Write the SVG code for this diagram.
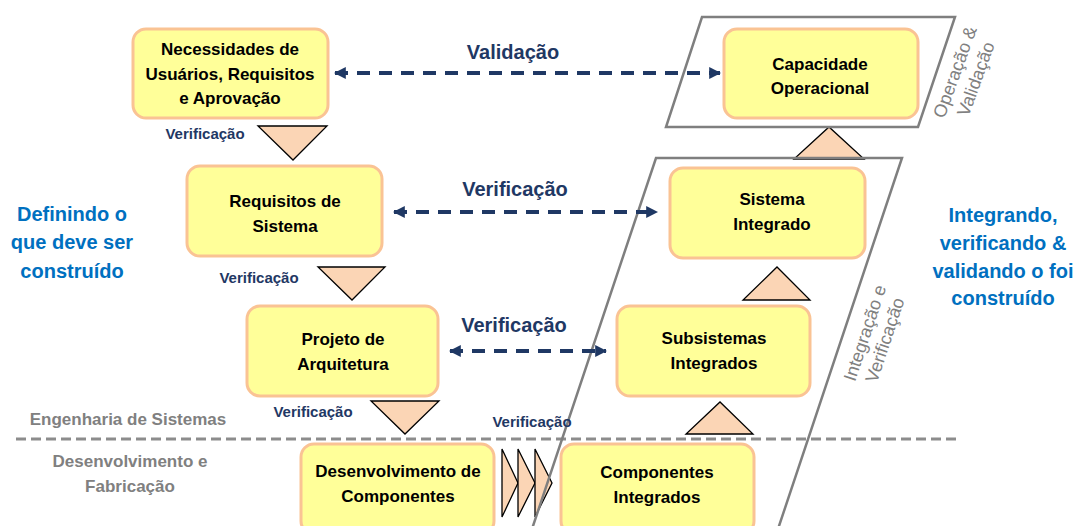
<svg xmlns="http://www.w3.org/2000/svg" width="1078" height="526" viewBox="0 0 1078 526">
<style>
.box{fill:#ffff99;stroke:#fac394;stroke-width:3}
.bt{font-family:"Liberation Sans",Arial,sans-serif;font-weight:bold;font-size:17px;fill:#000;text-anchor:middle}
.big{font-family:"Liberation Sans",Arial,sans-serif;font-weight:bold;font-size:20px;fill:#1f3864;text-anchor:middle}
.sm{font-family:"Liberation Sans",Arial,sans-serif;font-weight:bold;font-size:15px;fill:#1f3864;text-anchor:middle}
.blue{font-family:"Liberation Sans",Arial,sans-serif;font-weight:bold;font-size:20px;fill:#0070c0;text-anchor:middle}
.gray{font-family:"Liberation Sans",Arial,sans-serif;font-weight:bold;font-size:17px;fill:#808080;text-anchor:middle}
.rot{font-family:"Liberation Sans",Arial,sans-serif;font-size:18px;fill:#808080;text-anchor:middle}
.tri{fill:#fbd5b5;stroke:#000;stroke-width:1.3;stroke-linejoin:miter}
.par{fill:none;stroke:#7f7f7f;stroke-width:2.5}
.dash{fill:none;stroke:#1f3864;stroke-width:4;stroke-dasharray:13 9}
</style>
<defs>
<marker id="ah" viewBox="0 0 10 10" refX="9" refY="5" markerWidth="3" markerHeight="3" orient="auto-start-reverse" markerUnits="strokeWidth">
<path d="M0,0 L10,5 L0,10 z" fill="#1f3864"/>
</marker>
</defs>
<rect width="1078" height="526" fill="#fff"/>

<g id="connectors">
<polygon class="tri" points="258,126 327,126 293,160"/>
<polygon class="tri" points="318,267 385,267 352,300"/>
<polygon class="tri" points="371,401 439,401 405,434"/>
<polygon class="tri" points="743,300 810,300 777,267"/>
<polygon class="tri" points="686,434 753,434 720,402"/>
<polygon class="tri" points="794,159 864,159 829,127"/>
<polygon class="tri" points="502,449 518,483 502,517"/>
<polygon class="tri" points="518,449 535,483 518,517"/>
<polygon class="tri" points="535,449 552,483 535,517"/>
<line x1="16" y1="439" x2="956" y2="439" stroke="#8c8c8c" stroke-width="3" stroke-dasharray="10 5"/>
<polygon class="par" points="702,17 955,17 918,127 666,127"/>
<polyline class="par" points="531,532 656,158 902,158 777,532"/>
<line class="dash" x1="335" y1="73" x2="720" y2="73" marker-start="url(#ah)" marker-end="url(#ah)"/>
<line class="dash" x1="394" y1="212" x2="657" y2="212" marker-start="url(#ah)" marker-end="url(#ah)"/>
<line class="dash" x1="450" y1="351" x2="606" y2="351" marker-start="url(#ah)" marker-end="url(#ah)"/>
<text class="big" x="513" y="59">Validação</text>
<text class="big" x="515" y="196">Verificação</text>
<text class="big" x="514" y="332">Verificação</text>
<text class="sm" x="205" y="139">Verificação</text>
<text class="sm" x="259" y="283">Verificação</text>
<text class="sm" x="313" y="417">Verificação</text>
<text class="sm" x="532" y="427">Verificação</text>
</g>

<g id="n-necessidades">
<rect class="box" x="133" y="29" width="195" height="89" rx="13"/>
<text class="bt" x="230" y="55">Necessidades de</text>
<text class="bt" x="230" y="80">Usuários, Requisitos</text>
<text class="bt" x="230" y="104">e Aprovação</text>
</g>
<g id="n-capacidade">
<rect class="box" x="724" y="29" width="194" height="89" rx="13"/>
<text class="bt" x="820" y="70">Capacidade</text>
<text class="bt" x="820" y="94">Operacional</text>
</g>
<g id="n-requisitos">
<rect class="box" x="187" y="166" width="195" height="90" rx="13"/>
<text class="bt" x="285" y="207">Requisitos de</text>
<text class="bt" x="285" y="232">Sistema</text>
</g>
<g id="n-sistema">
<rect class="box" x="670" y="168" width="195" height="90" rx="13"/>
<text class="bt" x="772" y="205">Sistema</text>
<text class="bt" x="772" y="230">Integrado</text>
</g>
<g id="n-projeto">
<rect class="box" x="247" y="306" width="191" height="90" rx="13"/>
<text class="bt" x="343" y="345">Projeto de</text>
<text class="bt" x="343" y="370">Arquitetura</text>
</g>
<g id="n-subsistemas">
<rect class="box" x="617" y="306" width="193" height="90" rx="13"/>
<text class="bt" x="714" y="344">Subsistemas</text>
<text class="bt" x="714" y="369">Integrados</text>
</g>
<g id="n-desenvolvimento">
<rect class="box" x="301" y="444" width="193" height="90" rx="13"/>
<text class="bt" x="398" y="477">Desenvolvimento de</text>
<text class="bt" x="398" y="502">Componentes</text>
</g>
<g id="n-componentes">
<rect class="box" x="561" y="444" width="193" height="90" rx="13"/>
<text class="bt" x="657" y="478">Componentes</text>
<text class="bt" x="657" y="503">Integrados</text>
</g>

<g id="labels">
<text class="blue" x="72" y="221">Definindo o</text>
<text class="blue" x="72" y="249">que deve ser</text>
<text class="blue" x="72" y="278">construído</text>
<text class="blue" x="1003" y="222">Integrando,</text>
<text class="blue" x="1003" y="250">verificando &amp;</text>
<text class="blue" x="1003" y="278">validando o foi</text>
<text class="blue" x="1003" y="305">construído</text>
<text class="gray" x="128" y="425">Engenharia de Sistemas</text>
<text class="gray" x="130" y="467">Desenvolvimento e</text>
<text class="gray" x="130" y="492">Fabricação</text>
<text class="rot" transform="translate(865,333) rotate(-71.6)" y="6">Integração e</text>
<text class="rot" transform="translate(885,340) rotate(-71.6)" y="6">Verificação</text>
<text class="rot" transform="translate(955,72) rotate(-70)" y="6">Operação &amp;</text>
<text class="rot" transform="translate(976,79) rotate(-70)" y="6">Validação</text>
</g>
</svg>
